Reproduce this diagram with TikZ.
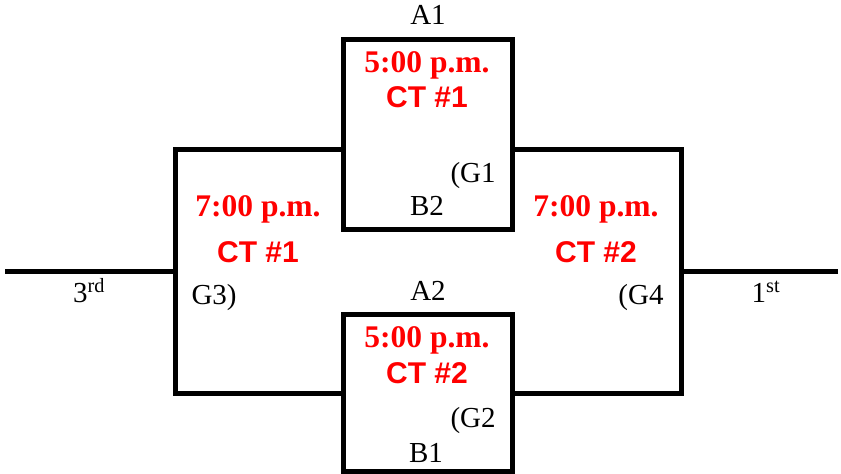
\documentclass[tikz,border=0pt]{standalone}
\usepackage{fontspec}
\setmainfont{Liberation Serif}
\setsansfont{Liberation Sans}
\usetikzlibrary{positioning}
\tikzset{Bracket/.style={
    x = 1pt, y = -1pt,
    line width = 5pt,
    game/.style = {draw, minimum width=169pt, inner sep=0pt},
    teamlbl/.style = {font=\fontsize{29}{31}\selectfont, inner sep=0pt, anchor=base},
    timelbl/.style = {font=\fontsize{31.5}{33}\selectfont\bfseries, text=red, inner sep=0pt, anchor=base},
    ctlbl/.style = {font=\sffamily\bfseries\fontsize{30}{32}\selectfont, text=red, inner sep=0pt, anchor=base}
}}

\begin{document}
\begin{tikzpicture}[Bracket]
    \useasboundingbox (0,0) rectangle (841,474);

    \node [game, minimum height=190pt] (g1) at (428,134) {};
    \node [game, minimum height=157pt] (g2) at (428,393) {};

    \coordinate (l3) at (5,271);
    \coordinate (r1) at (838,271);
    \coordinate (g3t) at (175,149);
    \coordinate (g3b) at (175,393);
    \coordinate (g4t) at (681.5,149);
    \coordinate (g4b) at (681.5,393);

    \draw (g1.west |- g3t) -- (g3t) -- (g3b) -- (g2.west);
    \draw (g1.east |- g4t) -- (g4t) -- (g4b) -- (g2.east);
    \draw (l3) -- (l3 -| g3t);
    \draw (r1) -- (r1 -| g4t);

    \node [teamlbl, above=9.5pt of g1.north] (a1) {A1};
    \node [timelbl] (t1) at (427,72) {5:00 p.m.};
    \node [ctlbl] (c1) at (427,107) {CT \#1};
    \node [teamlbl, anchor=base west] (g1l) at (448,182) {(G1};
    \node [teamlbl] (b2) at (427,215) {B2};

    \node [teamlbl, above=9pt of g2.north] (a2) {A2};
    \node [timelbl] (t2) at (427,347) {5:00 p.m.};
    \node [ctlbl] (c2) at (427,383) {CT \#2};
    \node [teamlbl, anchor=base west] (g2l) at (448,427) {(G2};
    \node [teamlbl] (b1) at (426,462) {B1};

    \node [timelbl] (t3) at (258,216) {7:00 p.m.};
    \node [ctlbl] (c3) at (258,262) {CT \#1};
    \node [teamlbl, anchor=base west] (g3l) at (189,304) {G3)};

    \node [timelbl] (t4) at (596,216) {7:00 p.m.};
    \node [ctlbl] (c4) at (596,262) {CT \#2};
    \node [teamlbl, anchor=base east] (g4l) at (666,304) {(G4};

    \node [teamlbl] (third) at (89,302) {3\textsuperscript{rd}};
    \node [teamlbl] (first) at (766,302) {1\textsuperscript{st}};
\end{tikzpicture}
\end{document}
